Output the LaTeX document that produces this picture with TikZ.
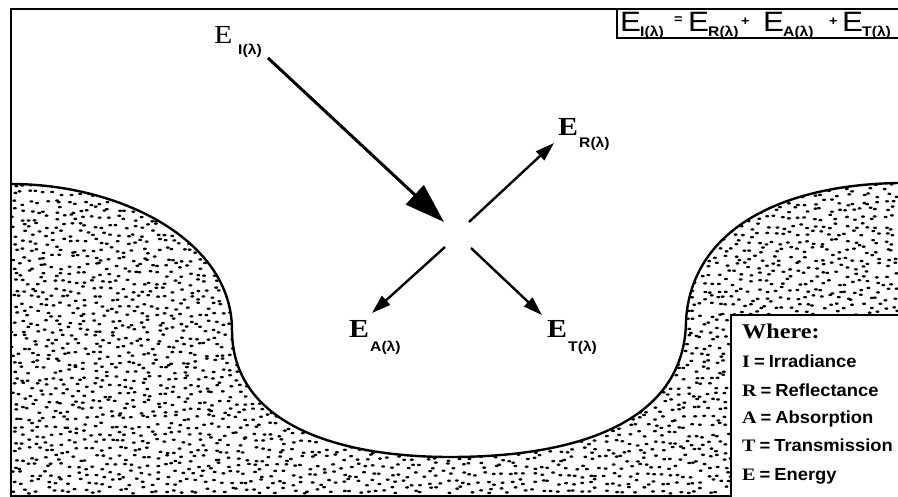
\documentclass[tikz,border=0pt]{standalone}
\usepackage{fontspec}
\setmainfont{Liberation Serif}
\newfontfamily\labsans[FakeStretch=1.12]{Liberation Sans}
\newfontfamily\legsans[FakeStretch=1.05]{Liberation Sans}
\newfontfamily\labserif[FakeStretch=1.15]{Liberation Serif}
\usetikzlibrary{arrows.meta}

\begin{document}
\begin{tikzpicture}[
  x=1pt, y=-1pt,
  frame/.style={line width=2pt},
  ray/.style={line width=2.4pt, -{Triangle[length=19pt,width=12pt]}},
  bigray/.style={line width=3pt, -{Triangle[length=40pt,width=26pt]}},
  lbl/.style={anchor=base west, inner sep=0pt},
  ebig/.style={lbl, font=\labserif\bfseries\fontsize{26}{26}\selectfont},
  esub/.style={lbl, font=\labsans\bfseries\fontsize{14}{14}\selectfont},
  eqbig/.style={lbl, font=\labsans\fontsize{28}{28}\selectfont},
  eqop/.style={lbl, font=\labsans\bfseries\fontsize{13}{13}\selectfont},
  leg/.style={lbl, font=\legsans\bfseries\fontsize{17.5}{17.5}\selectfont}
]
\useasboundingbox (0,0) rectangle (898,497);

% stippled ground
\begin{scope}
  \clip (11,184) .. controls (120,184) and (232,240) .. (232,330)
    .. controls (232,420) and (330,457) .. (450,457)
    .. controls (600,457) and (686,410) .. (686,320)
    .. controls (692,230) and (780,185) .. (898,183)
    -- (898,497) -- (11,497) -- cycle;
  \pgfmathsetseed{11}
  \foreach \gx in {14,22,...,896}
    \foreach \gy in {186,194,...,495} {
      \pgfmathsetmacro\dx{\gx+rand*3.5}
      \pgfmathsetmacro\dy{\gy+rand*3.5}
      \fill (\dx,\dy) ellipse [x radius=2, y radius=1.25];
    }
\end{scope}
\draw[frame, line width=2.4pt] (11,184) .. controls (120,184) and (232,240) .. (232,330)
    .. controls (232,420) and (330,457) .. (450,457)
    .. controls (600,457) and (686,410) .. (686,320)
    .. controls (692,230) and (780,185) .. (898,183);

% outer frame
\draw[frame] (11,9) rectangle (905,496);

% rays
\coordinate (iStart) at (268,58);
\coordinate (iEnd) at (444,222);
\coordinate (rStart) at (469,222);
\coordinate (rEnd) at (554,143);
\coordinate (aStart) at (445,247);
\coordinate (aEnd) at (372,313);
\coordinate (tStart) at (471,248);
\coordinate (tEnd) at (542,315);
\draw[bigray] (iStart) -- (iEnd);
\draw[ray] (rStart) -- (rEnd);
\draw[ray] (aStart) -- (aEnd);
\draw[ray] (tStart) -- (tEnd);

% labels
\node[lbl, font=\labserif\fontsize{26}{26}\selectfont] (eI) at (214,44) {E};
\node[esub] (eIs) at (238,55) {I(λ)};
\node[ebig] (eR) at (558,136) {E};
\node[esub] (eRs) at (579,148) {R(λ)};
\node[ebig] (eA) at (349,338) {E};
\node[esub] (eAs) at (370,352) {A(λ)};
\node[ebig] (eT) at (547,338) {E};
\node[esub] (eTs) at (568,352) {T(λ)};

% equation box
\draw[frame] (617,9) rectangle (905,38);
\node[eqbig] (q1) at (620,32) {E};
\node[esub] (q1s) at (640,37) {I(λ)};
\node[eqop] (qeq) at (674,24) {=};
\node[eqbig] (q2) at (688,32) {E};
\node[esub] (q2s) at (708,37) {R(λ)};
\node[eqop] (qp1) at (741,26) {+};
\node[eqbig] (q3) at (763,32) {E};
\node[esub] (q3s) at (783,37) {A(λ)};
\node[eqop] (qp2) at (829,26) {+};
\node[eqbig] (q4) at (842,32) {E};
\node[esub] (q4s) at (862,37) {T(λ)};

% legend
\draw[frame, fill=white] (731,315) rectangle (905,505);
\node[lbl, font=\labserif\bfseries\fontsize{21}{21}\selectfont] (where) at (742,339) {Where:};
\foreach \k/\w/\yy in {I/Irradiance/368, R/Reflectance/396, A/Absorption/423,
    T/Transmission/451, E/Energy/480}
  \node[leg] (leg\k) at (742,\yy) {{\labserif\k}\hspace{4pt}=\hspace{4pt}\w};
\end{tikzpicture}
\end{document}
